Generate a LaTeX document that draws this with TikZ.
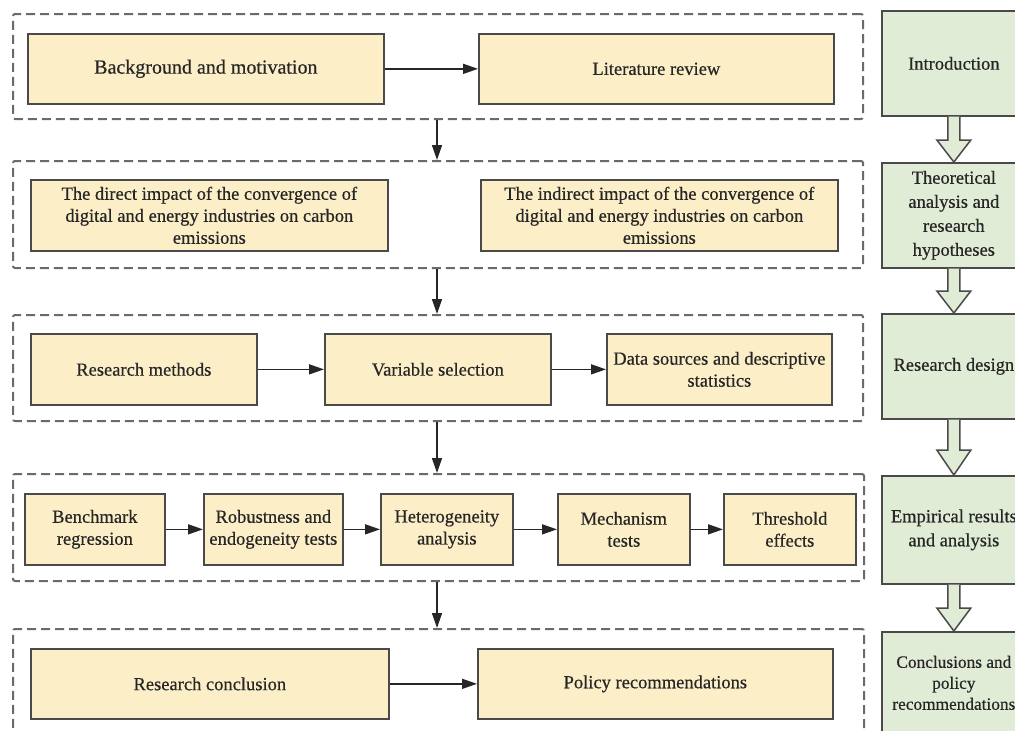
\documentclass[tikz,border=0pt]{standalone}
\usepackage{fontspec}
\setmainfont{Liberation Serif}
\newfontfamily\heavy[FakeBold=0.5]{Liberation Serif}
\usetikzlibrary{arrows.meta,calc}
\definecolor{cream}{HTML}{FCEFC8}
\definecolor{sage}{HTML}{E1ECD7}
\definecolor{edgec}{HTML}{4A4A4A}
\definecolor{dashc}{HTML}{6A6A6A}
\definecolor{txtc}{HTML}{262626}
\newcommand{\hollowarr}[3]{%
  \draw[hollow] ($(#1.south)+(-6,0)$) -- ($(#2.north)+(-6,-#3)$) -- ($(#2.north)+(-17,-#3)$) -- (#2.north) -- ($(#2.north)+(17,-#3)$) -- ($(#2.north)+(6,-#3)$) -- ($(#1.south)+(6,0)$);}
\begin{document}
\begin{tikzpicture}[x=1pt,y=-1pt,
  ybox/.style={draw=edgec,fill=cream,line width=1.7pt,inner sep=0pt,anchor=north west,align=center,font=\heavy\fontsize{18.5}{22}\selectfont,text=txtc},
  gbox/.style={draw=edgec,fill=sage,line width=1.7pt,inner sep=0pt,anchor=north west,align=center,font=\heavy\fontsize{18.5}{24}\selectfont,text=txtc},
  frame/.style={draw=dashc,line width=2pt,dash pattern=on 9pt off 5pt,anchor=north west,inner sep=0pt,rounded corners=2pt},
  arr/.style={draw=black!85,line width=1.5pt,-{Triangle[length=15pt,width=10pt]}},
  hollow/.style={draw=edgec,fill=sage,line width=1.5pt,line join=miter}]
\clip (0,0) rectangle (1015,731);
\fill[white] (0,0) rectangle (1015,731);

% dashed frames
\node[frame,minimum width=850,minimum height=105] (f1) at (12,13) {};
\node[frame,minimum width=850,minimum height=107] (f2) at (12,160) {};
\node[frame,minimum width=850,minimum height=106] (f3) at (12,314) {};
\node[frame,minimum width=851,minimum height=107] (f4) at (12,473) {};
\node[frame,minimum width=851,minimum height=125] (f5) at (12,628) {};

% row 1
\node[ybox,minimum width=356,minimum height=70,font=\heavy\fontsize{20}{22}\selectfont] (bg) at (27,33) {Background and motivation};
\node[ybox,minimum width=355,minimum height=70] (lit) at (478,33) {Literature review};
% row 2
\node[ybox,minimum width=357,minimum height=71] (dir) at (30,179) {The direct impact of the convergence of\\digital and energy industries on carbon\\emissions};
\node[ybox,minimum width=357,minimum height=71] (ind) at (480,179) {The indirect impact of the convergence of\\digital and energy industries on carbon\\emissions};
% row 3
\node[ybox,minimum width=226,minimum height=71] (rm) at (30,333) {Research methods};
\node[ybox,minimum width=226,minimum height=71] (vs) at (324,333) {Variable selection};
\node[ybox,minimum width=225,minimum height=71] (ds) at (606,333) {Data sources and descriptive\\statistics};
% row 4
\node[ybox,minimum width=140,minimum height=71] (bm) at (24,493) {Benchmark\\regression};
\node[ybox,minimum width=139,minimum height=71] (rob) at (203,493) {Robustness and\\endogeneity tests};
\node[ybox,minimum width=132,minimum height=71] (het) at (380,493) {Heterogeneity\\analysis};
\node[ybox,minimum width=132,minimum height=71] (mech) at (557,493) {Mechanism\\tests};
\node[ybox,minimum width=132,minimum height=71] (thr) at (723,493) {Threshold\\effects};
% row 5
\node[ybox,minimum width=358,minimum height=70] (rc) at (30,648) {Research conclusion};
\node[ybox,minimum width=355,minimum height=70] (pr) at (477,648) {Policy recommendations};

% green boxes
\node[gbox,minimum width=144,minimum height=105] (g1) at (881,10) {Introduction};
\node[gbox,minimum width=144,minimum height=105] (g2) at (881,162) {Theoretical\\analysis and\\research\\hypotheses};
\node[gbox,minimum width=144,minimum height=105] (g3) at (881,313) {Research design};
\node[gbox,minimum width=144,minimum height=108] (g4) at (881,475) {Empirical results\\and analysis};
\node[gbox,minimum width=144,minimum height=102,font=\heavy\fontsize{17.3}{21}\selectfont] (g5) at (881,631) {Conclusions and\\policy\\recommendations};

% horizontal arrows
\draw[arr] (bg) -- (lit);
\draw[arr] (rm) -- (vs);
\draw[arr] (vs) -- (ds);
\draw[arr] (bm) -- (rob);
\draw[arr] (rob) -- (het);
\draw[arr] (het) -- (mech);
\draw[arr] (mech) -- (thr);
\draw[arr] (rc) -- (pr);

% vertical arrows between frames
\coordinate (cx) at (437,0);
\draw[arr] (f1.south -| cx) -- (f2.north -| cx);
\draw[arr] (f2.south -| cx) -- (f3.north -| cx);
\draw[arr] (f3.south -| cx) -- (f4.north -| cx);
\draw[arr] (f4.south -| cx) -- (f5.north -| cx);

% hollow arrows between green boxes
\hollowarr{g1}{g2}{22}
\hollowarr{g2}{g3}{22}
\hollowarr{g3}{g4}{25}
\hollowarr{g4}{g5}{23}
\end{tikzpicture}
\end{document}
